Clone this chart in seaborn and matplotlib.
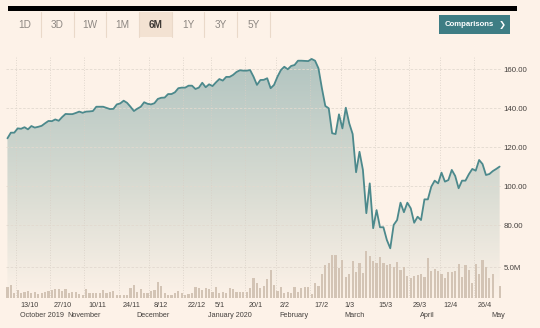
import numpy as np
import pandas as pd
import matplotlib
matplotlib.use("Agg")
import matplotlib.pyplot as plt
import seaborn as sns
from matplotlib.patches import Rectangle
from matplotlib.lines import Line2D
from matplotlib.colors import LinearSegmentedColormap

# ---- data -------------------------------------------------------------
holidays = ["2019-11-28", "2019-12-25", "2020-01-01", "2020-01-20",
            "2020-02-17", "2020-04-10"]
dates = pd.bdate_range("2019-10-09", "2020-05-06", freq="C", holidays=holidays)

price = [
    124.6, 127.5, 127.5, 129.7, 129.5, 130.3, 129.2, 130.9, 130.1, 130.5,
    131.0, 132.3, 133.5, 133.4, 134.3, 133.6, 135.5, 137.1, 137.0, 137.0,
    137.6, 138.3, 137.7, 138.3, 138.4, 138.6, 140.8, 140.8, 140.8, 140.2,
    139.6, 139.7, 142.0, 142.5, 143.9, 142.8, 140.8, 138.6, 139.8, 140.8,
    143.1, 142.3, 142.0, 142.6, 144.8, 145.4, 145.5, 147.3, 147.3, 148.2,
    150.3, 150.6, 150.6, 151.6, 151.6, 149.9, 150.6, 153.1, 150.8, 152.3,
    151.4, 153.3, 155.0, 154.2, 156.1, 156.1, 157.1, 158.6, 159.5, 159.3,
    159.3, 159.6, 156.2, 152.0, 154.5, 154.6, 155.4, 150.3, 152.0, 156.2,
    159.6, 161.3, 160.0, 161.7, 162.2, 164.4, 164.4, 164.3, 164.2, 165.3,
    164.4, 160.5, 150.3, 141.2, 140.0, 127.2, 126.8, 136.9, 129.7, 140.3,
    132.3, 126.8, 107.2, 117.7, 108.4, 86.2, 101.5, 78.5, 87.8, 79.0,
    79.0, 72.5, 68.2, 80.2, 82.7, 91.6, 86.7, 91.6, 88.7, 81.3,
    84.4, 82.7, 93.3, 93.3, 99.8, 102.9, 101.5, 107.0, 102.4, 103.2,
    108.4, 105.3, 99.0, 102.9, 102.9, 106.2, 108.9, 108.0, 113.5, 111.4,
    105.8, 106.3, 107.8, 108.9, 110.1,
]

volume_m = [
    1.75, 2.1, 0.8, 1.3, 0.9, 1.0, 1.15, 0.8, 1.0, 0.65,
    0.8, 1.0, 1.2, 1.3, 1.4, 1.4, 1.2, 1.5, 0.8, 1.0,
    1.0, 0.65, 0.45, 1.5, 0.9, 0.9, 0.8, 0.8, 1.3, 0.8,
    1.0, 1.1, 0.5, 0.45, 0.45, 0.5, 1.6, 2.1, 1.0, 1.5,
    0.9, 0.8, 1.15, 1.3, 2.7, 2.0, 0.9, 0.5, 0.5, 0.75,
    1.2, 0.75, 0.5, 0.65, 0.9, 1.85, 1.6, 1.3, 1.6, 1.4,
    1.0, 1.85, 0.9, 1.0, 0.9, 1.6, 1.4, 1.0, 1.0, 1.0,
    1.0, 1.6, 3.2, 2.5, 1.6, 2.0, 3.1, 4.6, 2.1, 1.2,
    1.75, 0.75, 1.0, 0.9, 1.75, 1.0, 1.6, 1.85, 1.85, 0.65,
    2.5, 2.0, 3.9, 5.4, 5.8, 7.05, 7.05, 4.9, 6.3, 3.5,
    4.0, 6.1, 4.3, 5.7, 4.15, 7.7, 6.9, 6.0, 5.7, 6.7,
    5.8, 5.4, 5.6, 5.0, 5.9, 4.6, 5.1, 3.6, 3.2, 3.6,
    3.8, 4.0, 3.4, 6.5, 4.5, 4.75, 4.5, 3.9, 3.2, 4.3,
    4.3, 4.4, 5.6, 3.5, 5.4, 4.6, 2.5, 5.6, 4.0, 6.3,
    5.0, 3.2, 3.9, 0.0, 2.0,
]

tick_dates = ["2019-10-13", "2019-10-27", "2019-11-10", "2019-11-24",
              "2019-12-08", "2019-12-22", "2020-01-05", "2020-01-20",
              "2020-02-02", "2020-02-17", "2020-03-01", "2020-03-15",
              "2020-03-29", "2020-04-12", "2020-04-26"]
tick_labels = ["13/10", "27/10", "10/11", "24/11", "8/12", "22/12", "5/1",
               "20/1", "2/2", "17/2", "1/3", "15/3", "29/3", "12/4", "26/4"]
month_starts = ["2019-10-01", "2019-11-01", "2019-12-01", "2020-01-01",
                "2020-02-01", "2020-03-01", "2020-04-01", "2020-05-01"]
month_labels = ["October 2019", "November", "December", "January 2020",
                "February", "March", "April", "May"]
price_ticks = [80, 100, 120, 140, 160]
volume_ticks_m = [5.0]
tabs = ["1D", "3D", "1W", "1M", "6M", "1Y", "3Y", "5Y"]
active_tab = "6M"
button_text = "Comparisons"

# ---- style ------------------------------------------------------------
BG = "#fdf2e8"
LINE = "#4c898c"
BAR = "#d3c4b5"
HGRID = "#e2d9cf"
VGRID = "#d8cfc5"
TEXT = "#45413e"
TEAL = "#3e7d84"

sns.set_theme(style="white")
plt.rcParams["font.family"] = ["Liberation Sans", "DejaVu Sans"]

W, H = 540, 328
fig = plt.figure(figsize=(W / 100, H / 100), dpi=100, facecolor=BG)


def fx(px):
    return px / W


def fy(py):
    return 1 - py / H


left_px, right_px, top_px, bottom_px = 6, 501, 57, 298
ax = fig.add_axes([fx(left_px), fy(bottom_px),
                   (right_px - left_px) / W, (bottom_px - top_px) / H])
ax.set_facecolor(BG)
axv = ax.twinx()
axl = ax.twinx()

x = np.arange(len(dates))
price_lim = (42.72, 166.3)
vol_lim = (0, 39.5)
xlim = (-0.42, 144.4)

# gradient area under the price line
area = ax.fill_between(x, price, price_lim[0], color="none", linewidth=0)
grad = np.linspace(0, 1, 256).reshape(-1, 1)
cmap = LinearSegmentedColormap.from_list(
    "fade", [(0, BG), (0.45, "#d9dcd3"), (1, "#b1c4c0")])
im = ax.imshow(grad, extent=[x[0], x[-1], price_lim[0], price_lim[1]],
               origin="lower", aspect="auto", cmap=cmap, zorder=0.5)
im.set_clip_path(area.get_paths()[0], transform=ax.transData)

# volume bars
sns.barplot(x=x, y=volume_m, ax=axv, native_scale=True, color=BAR,
            width=0.64, errorbar=None, linewidth=0, saturation=1)

# price line
sns.lineplot(x=x, y=price, ax=axl, color=LINE, linewidth=1.3)

for a in (ax, axv, axl):
    a.set_xlim(*xlim)
    a.set_xlabel("")
    a.set_ylabel("")
    for s in a.spines.values():
        s.set_visible(False)
ax.set_ylim(*price_lim)
axl.set_ylim(*price_lim)
axv.set_ylim(*vol_lim)

# x gridlines at fortnightly marks
tick_pos = [dates.searchsorted(pd.Timestamp(d)) - 0.5 for d in tick_dates]
ax.set_xticks(tick_pos)
ax.set_xticklabels([])
ax.tick_params(axis="x", length=4, width=0.6, color=VGRID, direction="out",
               labelbottom=False, pad=0)
ax.grid(axis="x", color=VGRID, linestyle=(0, (1, 2)), linewidth=0.6)

# price axis on the right
ax.yaxis.tick_right()
ax.set_yticks(price_ticks)
ax.set_yticklabels([f"{v:.2f}" for v in price_ticks])
ax.tick_params(axis="y", length=0, pad=2, labelsize=5.7, labelcolor=TEXT)
ax.grid(axis="y", color=HGRID, linestyle=(0, (3, 2)), linewidth=0.6)

axv.set_yticks(volume_ticks_m)
axv.set_yticklabels([f"{v:.1f}M" for v in volume_ticks_m])
axv.tick_params(axis="y", length=0, pad=2, labelsize=5.7, labelcolor=TEXT)
axv.grid(axis="y", color=HGRID, linestyle=(0, (3, 2)), linewidth=0.6)
axv.grid(axis="x", visible=False)
axl.set_yticks([])
axl.grid(False)

# date and month labels under the chart
for pos, lab in zip(tick_pos, tick_labels):
    ax.annotate(lab, xy=(pos, 0), xycoords=("data", "axes fraction"),
                xytext=(4, -4), textcoords="offset pixels",
                ha="left", va="top", fontsize=5.2, color=TEXT)
month_pos = [max(dates.searchsorted(pd.Timestamp(d)) - 0.5, tick_pos[0])
             for d in month_starts]
for pos, lab in zip(month_pos, month_labels):
    ax.annotate(lab, xy=(pos, 0), xycoords=("data", "axes fraction"),
                xytext=(4, -14), textcoords="offset pixels",
                ha="left", va="top", fontsize=5.2, color=TEXT)

# header: rule, period tabs, comparisons button
fig.add_artist(Rectangle((fx(8), fy(11)), (517 - 8) / W, 5 / H,
                         transform=fig.transFigure, color="black", lw=0))
tab_w = 32.65
tab_x0 = 8.4
for i, t in enumerate(tabs):
    x0 = tab_x0 + i * tab_w
    if t == active_tab:
        fig.add_artist(Rectangle((fx(x0), fy(36.7)), tab_w / W, 25 / H,
                                 transform=fig.transFigure,
                                 color="#f3e2d2", lw=0))
    if i > 0:
        fig.add_artist(Line2D([fx(x0), fx(x0)], [fy(11.7), fy(36.7)],
                              transform=fig.transFigure,
                              color="#ead9c9", lw=0.8))
    fig.text(fx(x0 + tab_w / 2), fy(24.5), t, ha="center", va="center",
             fontsize=7.2, color="#3f3a36" if t == active_tab else "#8d8782",
             fontweight="bold" if t == active_tab else "normal")
fig.add_artist(Line2D([fx(tab_x0 + 8 * tab_w)] * 2, [fy(11.7), fy(36.7)],
                      transform=fig.transFigure, color="#ead9c9", lw=0.8))

fig.add_artist(Rectangle((fx(439), fy(34)), 71 / W, 19 / H,
                         transform=fig.transFigure, color=TEAL, lw=0))
fig.text(fx(445), fy(24.8), button_text, ha="left", va="center",
         fontsize=5.6, color="white", fontweight="bold")
fig.text(fx(502), fy(24.8), "\u276f", ha="center", va="center",
         fontsize=6, color="white", fontweight="bold",
         family=["DejaVu Sans"])

fig.savefig("out.png", dpi=100, facecolor=BG)
